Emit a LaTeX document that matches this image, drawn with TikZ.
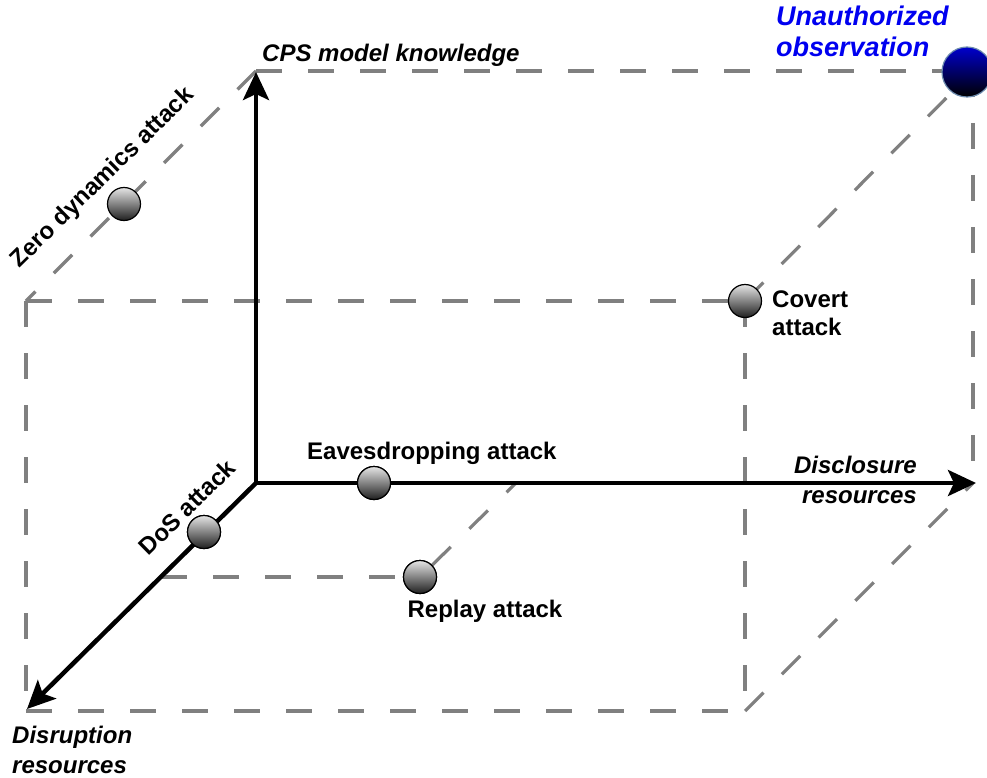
\documentclass[tikz,border=0pt]{standalone}
\usepackage{fontspec}
\setmainfont{Liberation Sans}
\usetikzlibrary{arrows.meta}
\definecolor{dashgray}{HTML}{808080}
\definecolor{labelblue}{RGB}{0,0,240}
\definecolor{rimblue}{RGB}{110,140,175}
\begin{document}
\begin{tikzpicture}[x=1pt,y=-1pt,
  guide/.style={draw=dashgray, line width=3.2pt, dash pattern=on 26pt off 26pt},
  axis/.style={draw=black, line width=4.5pt, -{Stealth[length=28pt,width=26pt,inset=6pt]}},
  ball/.style={circle, draw=black, line width=1.2pt, minimum size=33pt, inner sep=0pt,
    top color=black!10, bottom color=black!88},
  bigball/.style={circle, draw=rimblue, line width=1.2pt, minimum size=50pt, inner sep=0pt,
    top color=labelblue!85!black, bottom color=black},
  lbl/.style={inner sep=0pt, font=\bfseries\fontsize{24}{28}\selectfont},
  axlbl/.style={inner sep=0pt, font=\bfseries\itshape\fontsize{24}{30}\selectfont},
]
\useasboundingbox (0,0) rectangle (987,778);

% corners of the attack-space box
\coordinate (O)   at (256,483);
\coordinate (BTL) at (256,71);
\coordinate (BTR) at (973,71);
\coordinate (BBR) at (973,483);
\coordinate (FTL) at (26,301);
\coordinate (FTR) at (745,301);
\coordinate (FBR) at (745,711);
\coordinate (FBL) at (26,711);
\coordinate (xTip) at (976,483);
\coordinate (yTip) at (27,709);
\coordinate (zTip) at (256,72);
\coordinate (rL) at (161,577);
\coordinate (rB) at (516,483);

% dashed edges of the box
\draw[guide] (BTL) -- (BTR);
\draw[guide] (BTR) -- (BBR);
\draw[guide] (BTL) -- (FTL);
\draw[guide] (FTL) -- (FTR);
\draw[guide] (FTL) -- (FBL);
\draw[guide] (FBL) -- (FBR);
\draw[guide] (FTR) -- (FBR);
\draw[guide] (FTR) -- (BTR);
\draw[guide] (FBR) -- (BBR);

% attack points
\node[ball] (zero)   at (124,204) {};
\node[ball] (dos)    at (204,532) {};
\node[ball] (eaves)  at (374,483) {};
\node[ball] (replay) at (420,577) {};
\node[ball] (covert) at (745,301) {};

% projection lines of the replay attack
\draw[guide] (rL) -- (replay.west);
\draw[guide] (replay) -- (rB);

% axes
\draw[axis] (O) -- (zTip);
\draw[axis] (O) -- (xTip);
\draw[axis] (O) -- (yTip);

% redraw points above the axes
\node[ball] at (dos) {};
\node[ball] at (eaves) {};
\node[ball] at (replay) {};
\node[bigball] (unauth) at (967,72) {};

% labels (multi-line labels are anchored on the baseline of their last line)
\node[axlbl, anchor=base west] (cps) at (262,62) {CPS model knowledge};
\node[axlbl, anchor=base west, align=left, text=labelblue,
      font=\bfseries\itshape\fontsize{27}{31}\selectfont] (unauthlbl) at (776,57) {Unauthorized\\observation};
\node[lbl, anchor=base west, align=left] (covertlbl) at (772,335) {Covert\\attack};
\node[lbl, anchor=base west] (eaveslbl) at (307,459) {Eavesdropping attack};
\node[axlbl, anchor=base east, align=right] (disclbl) at (917,503) {Disclosure\\resources};
\node[lbl, anchor=base] (replaylbl) at (485,617) {Replay attack};
\node[axlbl, anchor=base west, align=left] (disrlbl) at (12,773) {Disruption\\resources};
\node[lbl, rotate=44.5] (zerolbl) at (103,178) {Zero dynamics attack};
\node[lbl, rotate=44.5] (doslbl) at (187,507) {DoS attack};
\end{tikzpicture}
\end{document}
